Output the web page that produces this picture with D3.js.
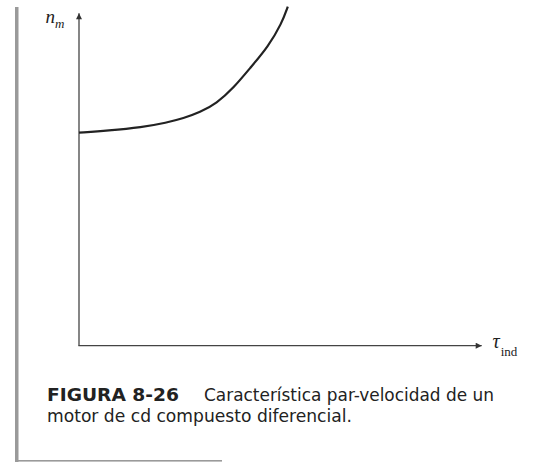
<!DOCTYPE html>
<html>
<head>
<meta charset="utf-8">
<script src="https://cdn.jsdelivr.net/npm/d3@7"></script>
<style>
  body { margin: 0; background: #fff; }
  svg { display: block; }
</style>
</head>
<body>
<svg id="chart"></svg>
<script>
const width = 540;
const height = 464;

// curva par-velocidad (unidades arbitrarias)
const torque = [0, 7.3, 15.7, 21.9, 26.1, 30.25, 34.4, 38.6, 42.75, 47.3, 50.7, 52.2];
const speed  = [64.1, 64.7, 65.7, 67.1, 68.4, 70.2, 72.9, 77.5, 83.5, 90.0, 97.0, 102.0];

const captionTitle = 'FIGURA 8-26';
const captionLine1 = 'Característica par-velocidad de un';
const captionLine2 = 'motor de cd compuesto diferencial.';

const svg = d3.select('#chart')
    .attr('width', width)
    .attr('height', height);

// barra gris lateral y linea inferior
svg.append('rect')
    .attr('x', 15).attr('y', 7)
    .attr('width', 3.5).attr('height', 455)
    .attr('fill', '#9a9a9a');
svg.append('rect')
    .attr('x', 15).attr('y', 460)
    .attr('width', 207).attr('height', 1.6)
    .attr('fill', '#9a9a9a');

const x = d3.scaleLinear().domain([0, 100]).range([79, 479]);
const y = d3.scaleLinear().domain([0, 100]).range([345.7, 13.3]);

const defs = svg.append('defs');
defs.append('marker')
    .attr('id', 'arrow')
    .attr('viewBox', '0 0 10 10')
    .attr('refX', 10).attr('refY', 5)
    .attr('markerUnits', 'userSpaceOnUse')
    .attr('markerWidth', 9).attr('markerHeight', 6)
    .attr('orient', 'auto')
    .append('path')
    .attr('d', 'M0,0 L10,5 L0,10 Z')
    .attr('fill', '#333');

const axis_g = svg.append('g').attr('id', 'axes_g');

// eje y
axis_g.append('line')
    .attr('x1', x(0)).attr('y1', y(0))
    .attr('x2', x(0)).attr('y2', y(100))
    .attr('stroke', '#444')
    .attr('stroke-width', 1.3)
    .attr('marker-end', 'url(#arrow)');

// eje x
axis_g.append('line')
    .attr('x1', x(0) - 0.6).attr('y1', y(0))
    .attr('x2', x(100) + 2.7).attr('y2', y(0))
    .attr('stroke', '#444')
    .attr('stroke-width', 1.3)
    .attr('marker-end', 'url(#arrow)');

const points = torque.map((t, i) => [t, speed[i]]);
const line = d3.line()
    .x(d => x(d[0]))
    .y(d => y(d[1]))
    .curve(d3.curveBasis);

svg.append('path')
    .datum(points)
    .attr('d', line)
    .attr('fill', 'none')
    .attr('stroke', '#222')
    .attr('stroke-width', 2.2)
    .attr('stroke-linecap', 'butt');

// etiquetas de los ejes
const ylab = svg.append('text')
    .attr('x', 45.5).attr('y', 23)
    .attr('font-family', '"Liberation Serif", "DejaVu Serif", serif')
    .attr('font-style', 'italic')
    .attr('font-size', 19)
    .attr('fill', '#222');
ylab.append('tspan').text('n');
ylab.append('tspan').attr('dy', 4.5).attr('font-size', 13).text('m');

const xlab = svg.append('text')
    .attr('x', 492.5).attr('y', 348)
    .attr('font-family', '"Liberation Serif", "DejaVu Serif", serif')
    .attr('font-size', 20)
    .attr('fill', '#222');
xlab.append('tspan').attr('font-style', 'italic').text('τ');
xlab.append('tspan').attr('dy', 8).attr('dx', 1).attr('font-size', 13).text('ind');

// pie de figura
const capFont = '"DejaVu Sans Condensed", "Open Sans", sans-serif';
svg.append('text')
    .attr('x', 47).attr('y', 400.5)
    .attr('font-family', capFont)
    .attr('font-weight', 'bold')
    .attr('font-size', 18.5)
    .attr('fill', '#222')
    .attr('textLength', 132)
    .attr('lengthAdjust', 'spacingAndGlyphs')
    .text(captionTitle);
svg.append('text')
    .attr('x', 204).attr('y', 400.5)
    .attr('font-family', capFont)
    .attr('font-size', 18)
    .attr('fill', '#222')
    .attr('textLength', 290)
    .attr('lengthAdjust', 'spacingAndGlyphs')
    .text(captionLine1);
svg.append('text')
    .attr('x', 47).attr('y', 421.7)
    .attr('font-family', capFont)
    .attr('font-size', 18)
    .attr('fill', '#222')
    .attr('textLength', 305)
    .attr('lengthAdjust', 'spacingAndGlyphs')
    .text(captionLine2);
</script>
</body>
</html>
